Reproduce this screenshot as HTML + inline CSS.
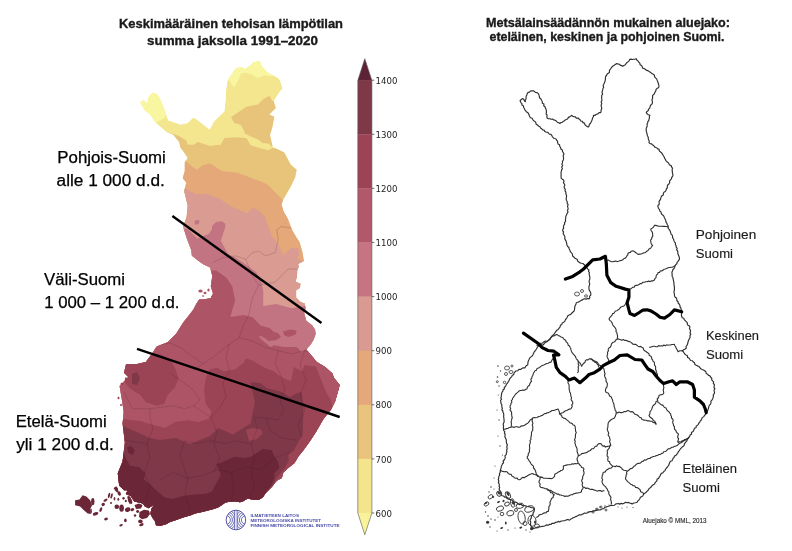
<!DOCTYPE html>
<html><head><meta charset="utf-8"><style>
html,body{margin:0;padding:0;background:#fff;}
body{width:792px;height:551px;overflow:hidden;position:relative;}
svg{position:absolute;left:0;top:0;}
text{-webkit-font-smoothing:antialiased;}
svg{will-change:transform;}
.t{font-family:"Liberation Sans",sans-serif;font-weight:bold;fill:#1a1a1a;stroke:#1a1a1a;stroke-width:0.35px;}
.lab{font-family:"Liberation Sans",sans-serif;fill:#000;stroke:#000;stroke-width:0.25px;}
.rl{font-family:"Liberation Sans",sans-serif;fill:#1a1a1a;stroke:#1a1a1a;stroke-width:0.15px;}
.cbl{font-family:"DejaVu Sans","Liberation Sans",sans-serif;font-size:8.6px;fill:#222;}
</style></head><body>
<svg width="792" height="551" viewBox="0 0 792 551">
<rect width="792" height="551" fill="#fff"/>

<defs><clipPath id="fin"><polygon points="140.2,102.2 143.5,99.8 147.2,103.5 148.2,97.5 152.5,92.4 157.6,94.2 161.2,101.0 165.6,112.5 168.1,120.2 171.8,121.6 180.5,124.5 187.7,123.1 193.5,117.3 197.9,120.2 205.2,126.0 209.5,129.6 213.9,121.6 219.7,115.8 224.3,111.6 225.5,100.0 226.0,90.0 227.5,80.4 231.6,73.9 235.9,68.3 241.2,66.9 245.6,68.7 250.0,65.6 253.6,62.1 259.8,60.7 261.5,65.6 266.0,70.9 269.5,73.6 278.3,78.0 280.3,81.1 282.6,88.6 278.1,94.2 273.7,101.5 275.9,108.0 269.4,114.5 274.4,116.7 272.3,127.6 270.0,135.0 272.7,146.7 284.3,152.5 290.8,164.8 296.7,169.7 295.2,177.3 290.8,186.6 286.5,193.9 283.0,200.0 281.5,204.5 283.6,211.6 287.9,218.9 292.1,230.0 296.6,237.7 299.5,242.1 302.4,252.3 303.9,261.0 298.1,263.9 298.8,266.8 297.3,269.7 296.9,277.3 295.4,281.6 300.5,283.8 299.8,288.1 296.1,290.3 296.1,297.6 300.5,301.9 304.8,303.4 305.6,308.5 304.1,312.8 306.3,320.8 312.1,325.2 315.0,329.5 315.7,333.9 313.6,339.7 310.7,344.4 306.3,349.4 310.7,354.5 316.5,361.8 325.2,366.9 332.4,373.4 333.9,377.7 339.7,385.0 338.2,390.8 335.3,401.0 331.0,409.7 323.5,419.1 316.2,431.8 310.0,441.3 303.5,450.2 298.4,456.5 294.6,462.9 288.3,468.0 283.2,473.0 281.9,478.1 276.8,480.7 271.8,487.0 265.4,493.4 262.9,497.2 259.1,499.7 252.7,499.7 247.6,498.5 243.8,501.0 240.0,502.3 235.0,501.5 230.0,501.8 225.4,502.5 222.0,505.0 218.0,507.5 213.7,509.0 208.0,510.5 202.1,512.0 195.0,513.5 190.9,515.2 183.0,517.5 176.2,520.1 170.0,522.0 166.0,524.2 160.0,526.1 156.0,525.2 155.1,521.4 152.3,517.6 150.4,513.8 151.3,509.1 154.2,504.4 148.5,508.2 144.7,506.3 142.8,503.5 134.3,501.6 130.6,495.9 125.8,494.0 127.7,490.3 124.0,490.3 119.2,485.5 118.3,478.0 117.8,473.2 122.6,461.4 124.9,442.5 122.6,423.6 123.7,411.8 121.8,399.0 119.6,385.9 128.3,377.1 124.0,372.8 126.1,364.1 137.0,364.1 145.8,361.9 152.3,353.2 156.6,346.6 167.5,342.3 176.3,333.6 183.2,322.6 189.0,315.3 193.4,309.5 196.3,303.7 199.2,299.4 206.0,299.0 210.8,297.9 213.0,293.6 210.8,286.3 212.3,276.1 210.1,267.4 203.6,264.5 197.7,260.2 191.9,255.8 191.2,250.0 187.0,239.0 183.0,226.6 186.6,217.2 187.7,205.4 184.2,191.2 186.3,182.6 182.7,178.2 184.8,171.0 184.8,162.2 187.7,157.9 184.8,153.5 180.5,147.7 179.0,141.9 173.2,134.7 166.0,131.8 155.8,123.1 150.0,114.4 144.5,110.2"/></clipPath></defs>
<g clip-path="url(#fin)">
<polygon points="140.2,102.2 143.5,99.8 147.2,103.5 148.2,97.5 152.5,92.4 157.6,94.2 161.2,101.0 165.6,112.5 168.1,120.2 171.8,121.6 180.5,124.5 187.7,123.1 193.5,117.3 197.9,120.2 205.2,126.0 209.5,129.6 213.9,121.6 219.7,115.8 224.3,111.6 225.5,100.0 226.0,90.0 227.5,80.4 231.6,73.9 235.9,68.3 241.2,66.9 245.6,68.7 250.0,65.6 253.6,62.1 259.8,60.7 261.5,65.6 266.0,70.9 269.5,73.6 278.3,78.0 280.3,81.1 282.6,88.6 278.1,94.2 273.7,101.5 275.9,108.0 269.4,114.5 274.4,116.7 272.3,127.6 270.0,135.0 272.7,146.7 284.3,152.5 290.8,164.8 296.7,169.7 295.2,177.3 290.8,186.6 286.5,193.9 283.0,200.0 281.5,204.5 283.6,211.6 287.9,218.9 292.1,230.0 296.6,237.7 299.5,242.1 302.4,252.3 303.9,261.0 298.1,263.9 298.8,266.8 297.3,269.7 296.9,277.3 295.4,281.6 300.5,283.8 299.8,288.1 296.1,290.3 296.1,297.6 300.5,301.9 304.8,303.4 305.6,308.5 304.1,312.8 306.3,320.8 312.1,325.2 315.0,329.5 315.7,333.9 313.6,339.7 310.7,344.4 306.3,349.4 310.7,354.5 316.5,361.8 325.2,366.9 332.4,373.4 333.9,377.7 339.7,385.0 338.2,390.8 335.3,401.0 331.0,409.7 323.5,419.1 316.2,431.8 310.0,441.3 303.5,450.2 298.4,456.5 294.6,462.9 288.3,468.0 283.2,473.0 281.9,478.1 276.8,480.7 271.8,487.0 265.4,493.4 262.9,497.2 259.1,499.7 252.7,499.7 247.6,498.5 243.8,501.0 240.0,502.3 235.0,501.5 230.0,501.8 225.4,502.5 222.0,505.0 218.0,507.5 213.7,509.0 208.0,510.5 202.1,512.0 195.0,513.5 190.9,515.2 183.0,517.5 176.2,520.1 170.0,522.0 166.0,524.2 160.0,526.1 156.0,525.2 155.1,521.4 152.3,517.6 150.4,513.8 151.3,509.1 154.2,504.4 148.5,508.2 144.7,506.3 142.8,503.5 134.3,501.6 130.6,495.9 125.8,494.0 127.7,490.3 124.0,490.3 119.2,485.5 118.3,478.0 117.8,473.2 122.6,461.4 124.9,442.5 122.6,423.6 123.7,411.8 121.8,399.0 119.6,385.9 128.3,377.1 124.0,372.8 126.1,364.1 137.0,364.1 145.8,361.9 152.3,353.2 156.6,346.6 167.5,342.3 176.3,333.6 183.2,322.6 189.0,315.3 193.4,309.5 196.3,303.7 199.2,299.4 206.0,299.0 210.8,297.9 213.0,293.6 210.8,286.3 212.3,276.1 210.1,267.4 203.6,264.5 197.7,260.2 191.9,255.8 191.2,250.0 187.0,239.0 183.0,226.6 186.6,217.2 187.7,205.4 184.2,191.2 186.3,182.6 182.7,178.2 184.8,171.0 184.8,162.2 187.7,157.9 184.8,153.5 180.5,147.7 179.0,141.9 173.2,134.7 166.0,131.8 155.8,123.1 150.0,114.4 144.5,110.2" fill="#f3e68e"/>
<polygon points="222.0,79.0 228.8,79.7 234.1,87.7 237.7,81.5 241.2,73.6 246.5,72.7 251.8,74.4 257.1,78.0 260.7,77.1 264.2,75.3 270.4,76.2 285.0,76.0 285.0,55.0 222.0,55.0" fill="#f8f6a0"/>
<polygon points="135.0,95.0 135.0,124.0 156.5,122.3 160.0,120.8 164.0,118.5 167.0,115.5 169.0,112.0 169.0,88.0" fill="#f8f6a0"/>
<polygon points="150.0,128.0 166.0,131.8 179.0,136.1 186.3,140.5 187.7,144.8 193.5,144.8 197.9,141.9 210.0,145.9 218.2,144.8 220.2,145.2 224.5,137.9 234.7,137.2 246.3,137.9 250.7,145.2 259.4,148.1 268.1,150.3 272.4,148.1 290.0,150.0 352.0,150.0 352.0,545.0 55.0,545.0 55.0,128.0" fill="#e8c47b"/>
<polygon points="231.1,116.9 239.0,111.8 246.3,106.7 257.9,104.5 263.7,98.7 269.5,95.8 272.4,100.9 290.0,100.0 290.0,146.0 271.0,146.6 269.5,143.7 262.3,143.0 257.9,139.4 250.7,136.5 244.8,133.6 243.4,129.2 240.5,124.8 234.0,122.7" fill="#e8c47b"/>
<polygon points="175.0,160.0 184.5,160.6 196.7,169.7 202.7,165.2 210.3,163.6 222.4,171.2 237.6,172.7 249.7,177.3 261.8,181.8 267.9,184.8 275.5,192.4 283.0,200.0 300.0,203.0 352.0,203.0 352.0,545.0 55.0,545.0 55.0,160.0" fill="#e5a879"/>
<polygon points="175.0,187.0 184.5,187.9 195.2,193.9 207.3,193.9 219.4,198.5 230.0,206.1 240.6,210.6 246.7,213.6 252.7,207.6 258.8,210.6 264.8,217.0 268.5,227.0 271.5,236.0 275.6,240.7 278.5,245.0 283.6,255.2 290.8,247.9 298.1,247.9 299.5,255.2 296.6,258.1 302.4,261.0 320.0,262.0 352.0,262.0 352.0,545.0 55.0,545.0 55.0,187.0" fill="#d99b92"/>
<polygon points="194.4,221.5 197.0,219.7 199.7,221.0 198.5,224.2 195.0,224.5" fill="#c37483"/>
<polygon points="212.0,226.0 216.0,222.0 222.0,221.2 225.5,224.0 224.0,229.0 218.0,231.0 212.0,230.0" fill="#c37483"/>
<polygon points="178.0,228.0 187.7,229.0 197.2,238.4 209.0,233.7 213.7,226.6 220.8,221.9 225.5,226.6 220.8,240.8 228.0,254.0 235.2,257.4 243.9,263.2 249.7,267.6 256.0,272.0 261.0,280.0 263.2,290.9 263.2,306.1 276.3,304.0 291.5,308.3 304.6,306.1 320.0,306.0 352.0,306.0 352.0,545.0 55.0,545.0 55.0,228.0" fill="#c37483"/>
<polygon points="198.0,260.0 210.5,270.5 216.3,270.5 226.5,277.7 232.3,286.5 235.2,301.0 232.3,309.7 230.5,317.0 243.6,314.9 252.3,317.0 261.0,325.8 269.7,327.9 274.1,332.3 265.4,334.5 258.8,336.6 262.0,340.0 270.7,346.9 274.1,345.2 284.5,346.9 296.6,346.9 301.7,352.1 306.9,348.6 313.3,351.9 340.0,352.0 352.0,352.0 352.0,545.0 55.0,545.0 55.0,260.0" fill="#ad5567"/>
<polygon points="259.0,335.3 263.0,331.5 270.0,331.0 278.0,333.0 281.0,337.0 276.0,340.3 268.0,341.0 265.0,338.0" fill="#ad5567"/><polygon points="283.0,331.5 290.0,329.5 296.8,330.5 295.5,334.5 289.0,337.0 284.5,335.5" fill="#ad5567"/>
<polygon points="112.0,418.0 118.0,418.0 130.0,420.0 140.0,421.0 150.0,424.0 165.0,428.0 175.0,422.0 187.6,420.3 198.5,422.1 209.4,418.5 211.2,411.3 205.8,404.0 204.0,389.5 205.8,378.6 209.4,369.5 216.7,367.7 223.9,371.3 235.0,369.5 243.6,362.8 245.8,358.4 252.3,360.6 263.2,367.1 274.1,371.5 282.8,378.0 291.0,381.0 293.7,367.1 302.4,371.5 304.6,365.0 320.0,367.1 345.0,367.0 352.0,367.0 352.0,545.0 55.0,545.0 55.0,418.0" fill="#9b4456"/>
<polygon points="301.7,352.0 308.6,357.2 315.5,365.9 319.0,374.5 322.4,383.1 325.9,391.7 331.0,400.3 332.8,409.0 329.3,415.9 345.0,416.0 345.0,350.0" fill="#ad5567"/>
<polygon points="110.0,380.0 122.3,376.8 125.9,384.0 131.3,389.5 140.4,394.9 145.9,402.2 156.8,405.8 164.0,404.0 167.7,394.9 174.9,387.6 178.5,378.6 174.9,367.7 169.5,358.6 160.0,354.0 151.3,353.2 155.0,345.0 150.0,335.0 110.0,335.0" fill="#9b4456"/>
<polygon points="132.0,374.0 137.0,372.0 140.0,378.0 137.0,385.0 132.0,384.0" fill="#7e3848"/>
<polygon points="115.0,422.0 132.0,430.0 150.0,438.0 160.0,440.0 176.0,438.0 190.0,444.0 210.0,436.0 218.0,428.0 233.0,434.5 250.5,423.6 254.9,401.8 250.5,382.2 260.3,383.1 267.2,388.3 281.0,391.7 289.7,396.9 296.6,393.4 301.7,391.7 303.4,409.0 302.8,434.5 296.3,445.4 285.4,467.1 276.6,478.0 272.3,488.9 300.0,500.0 352.0,500.0 352.0,545.0 55.0,545.0 55.0,422.0" fill="#7e3848"/>
<polygon points="246.0,430.0 252.0,428.0 260.0,429.0 263.0,433.0 257.0,439.0 249.0,441.0" fill="#9b4456"/><polygon points="288.3,455.0 292.0,451.5 297.0,452.0 296.0,458.0 292.5,464.0 289.0,462.0" fill="#9b4456"/>
<polygon points="110.0,453.0 124.1,453.6 125.6,458.2 130.2,465.8 139.2,467.3 145.3,473.3 143.8,479.4 149.8,483.9 157.4,491.5 165.0,497.6 172.6,499.1 183.2,496.1 193.8,494.5 205.9,493.8 212.0,491.5 215.0,485.5 221.1,474.8 216.5,464.2 224.1,461.2 235.0,456.7 243.8,458.0 250.2,457.0 255.2,454.0 262.9,448.9 271.8,450.2 274.3,456.5 278.1,461.6 279.4,468.0 274.3,473.0 274.3,478.1 271.8,484.5 266.0,492.0 262.0,505.0 352.0,505.0 352.0,545.0 55.0,545.0 55.0,453.0" fill="#6b2737"/><polygon points="127.0,447.0 131.0,446.0 134.7,450.0 133.0,455.0 128.5,453.0" fill="#6b2737"/>
<polyline points="213.0,262.5 222.8,257.6 235.9,255.9 245.7,259.2 252.2,252.7 258.7,251.0 265.3,255.9 275.1,252.7 278.3,239.6 276.7,229.8 281.6,226.5 291.4,228.2" fill="none" stroke="#3a1420" stroke-opacity="0.28" stroke-width="0.6"/><polyline points="245.7,259.2 252.2,275.5 258.7,285.3 252.2,298.4 248.9,314.7 242.4,327.8 239.1,337.6 229.3,344.1 213.0,357.2 203.2,363.7 193.4,370.3" fill="none" stroke="#3a1420" stroke-opacity="0.28" stroke-width="0.6"/><polyline points="258.7,285.3 275.1,282.1 288.1,269.0 299.0,269.0" fill="none" stroke="#3a1420" stroke-opacity="0.28" stroke-width="0.6"/><polyline points="239.1,337.6 252.2,340.9 265.3,347.4 278.3,350.7 291.4,353.9 304.5,350.7 312.0,352.0" fill="none" stroke="#3a1420" stroke-opacity="0.28" stroke-width="0.6"/><polyline points="229.3,344.1 226.1,357.2 229.3,370.3 222.8,383.3 226.1,396.4 221.0,405.8 210.8,417.4" fill="none" stroke="#3a1420" stroke-opacity="0.28" stroke-width="0.6"/><polyline points="278.3,350.7 275.1,363.7 281.6,376.8 284.9,389.9 280.0,400.0 284.0,410.0 278.0,420.0 266.0,418.0 254.4,417.4" fill="none" stroke="#3a1420" stroke-opacity="0.28" stroke-width="0.6"/><polyline points="158.0,345.0 170.0,343.0 180.3,347.4 193.4,357.2 203.2,363.7" fill="none" stroke="#3a1420" stroke-opacity="0.28" stroke-width="0.6"/><polyline points="170.5,373.5 180.3,380.0 193.4,389.9 200.0,400.0 193.4,405.8" fill="none" stroke="#3a1420" stroke-opacity="0.28" stroke-width="0.6"/><polyline points="124.0,392.0 132.4,408.7 149.9,408.7 173.1,405.8 184.7,408.7 193.4,405.8 210.8,417.4 216.7,431.9 213.8,443.6 219.6,458.1 213.8,472.6" fill="none" stroke="#3a1420" stroke-opacity="0.28" stroke-width="0.6"/><polyline points="149.9,408.7 149.9,417.4 152.8,429.0 147.0,443.6 149.9,458.1 144.0,472.6 150.0,486.0 146.0,500.0" fill="none" stroke="#3a1420" stroke-opacity="0.28" stroke-width="0.6"/><polyline points="124.0,440.0 135.0,442.0 147.0,443.6" fill="none" stroke="#3a1420" stroke-opacity="0.28" stroke-width="0.6"/><polyline points="184.7,440.7 196.3,443.6 210.8,440.7 225.4,443.6 237.0,440.7 248.6,443.6 251.5,443.6" fill="none" stroke="#3a1420" stroke-opacity="0.28" stroke-width="0.6"/><polyline points="160.0,480.0 173.1,472.6 187.6,478.4 202.1,475.5 216.7,469.7 231.2,472.6 245.7,466.8 260.2,469.7 274.7,458.1 290.0,452.0" fill="none" stroke="#3a1420" stroke-opacity="0.28" stroke-width="0.6"/><polyline points="231.2,472.6 234.1,487.1 231.2,501.7" fill="none" stroke="#3a1420" stroke-opacity="0.28" stroke-width="0.6"/><polyline points="254.4,417.4 257.3,429.0 251.5,443.6 254.4,458.1 251.5,472.6 254.4,487.1 250.0,498.0" fill="none" stroke="#3a1420" stroke-opacity="0.28" stroke-width="0.6"/><polyline points="184.7,440.7 180.0,455.0 187.6,478.4 185.0,495.0 190.0,510.0" fill="none" stroke="#3a1420" stroke-opacity="0.28" stroke-width="0.6"/><polyline points="304.5,350.7 300.0,365.0 306.0,380.0 300.0,395.0 305.0,410.0 298.0,425.0 302.0,438.0" fill="none" stroke="#3a1420" stroke-opacity="0.28" stroke-width="0.6"/><polyline points="266.0,418.0 270.0,430.0 282.0,438.0 296.0,440.0" fill="none" stroke="#3a1420" stroke-opacity="0.28" stroke-width="0.6"/><polyline points="170.0,300.0 185.0,302.0 200.0,298.0" fill="none" stroke="#3a1420" stroke-opacity="0.28" stroke-width="0.6"/>
</g>
<polygon points="75.1,500.2 79.5,499.6 82.6,495.2 86.4,496.4 90.2,500.2 92.1,505.3 90.2,509.0 90.8,514.1 87.7,513.5 83.9,510.3 80.1,506.5 75.1,505.3" fill="#6b2737"/>
<ellipse cx="116.9" cy="489.3" rx="1.1" ry="3" transform="rotate(-20 116.9 489.3)" fill="#6b2737"/><ellipse cx="119.2" cy="493.5" rx="1.6" ry="2.2" transform="rotate(-30 119.2 493.5)" fill="#6b2737"/><ellipse cx="109" cy="495.5" rx="1" ry="2.8" transform="rotate(15 109 495.5)" fill="#6b2737"/><ellipse cx="111.6" cy="496" rx="1" ry="2.8" transform="rotate(15 111.6 496)" fill="#6b2737"/><ellipse cx="114.5" cy="498.7" rx="0.9" ry="1.8" transform="rotate(0 114.5 498.7)" fill="#6b2737"/><ellipse cx="118.3" cy="499.2" rx="0.9" ry="1.5" transform="rotate(0 118.3 499.2)" fill="#6b2737"/><ellipse cx="123.5" cy="498.3" rx="1.2" ry="1.4" transform="rotate(0 123.5 498.3)" fill="#6b2737"/><ellipse cx="125.8" cy="501" rx="1" ry="1.3" transform="rotate(0 125.8 501)" fill="#6b2737"/><ellipse cx="130" cy="500" rx="1.6" ry="4.2" transform="rotate(-25 130 500)" fill="#6b2737"/><ellipse cx="105.5" cy="500.2" rx="2.2" ry="1.2" transform="rotate(-30 105.5 500.2)" fill="#6b2737"/><ellipse cx="103.2" cy="504.4" rx="1.8" ry="1.6" transform="rotate(-30 103.2 504.4)" fill="#6b2737"/><ellipse cx="100.8" cy="509.6" rx="1.2" ry="2.4" transform="rotate(20 100.8 509.6)" fill="#6b2737"/><ellipse cx="95.6" cy="513.8" rx="2.9" ry="1.6" transform="rotate(-20 95.6 513.8)" fill="#6b2737"/><ellipse cx="92.8" cy="501.6" rx="1.7" ry="3.6" transform="rotate(0 92.8 501.6)" fill="#6b2737"/><ellipse cx="91" cy="511" rx="0.9" ry="2.6" transform="rotate(0 91 511)" fill="#6b2737"/><ellipse cx="116.8" cy="506.7" rx="2.3" ry="2.3" transform="rotate(0 116.8 506.7)" fill="#6b2737"/><ellipse cx="121.6" cy="508.2" rx="2.3" ry="3.6" transform="rotate(0 121.6 508.2)" fill="#6b2737"/><ellipse cx="127.7" cy="509.6" rx="2.8" ry="2.3" transform="rotate(-20 127.7 509.6)" fill="#6b2737"/><ellipse cx="132.4" cy="509.6" rx="1.9" ry="1.4" transform="rotate(-20 132.4 509.6)" fill="#6b2737"/><ellipse cx="137.6" cy="511.5" rx="1.5" ry="1.4" transform="rotate(0 137.6 511.5)" fill="#6b2737"/><ellipse cx="106" cy="519" rx="1.9" ry="1.4" transform="rotate(-15 106 519)" fill="#6b2737"/><ellipse cx="125.4" cy="520.4" rx="1.3" ry="1.8" transform="rotate(0 125.4 520.4)" fill="#6b2737"/><ellipse cx="121.1" cy="525.2" rx="1.9" ry="1" transform="rotate(-20 121.1 525.2)" fill="#6b2737"/><ellipse cx="140.4" cy="521.4" rx="2.3" ry="1.8" transform="rotate(0 140.4 521.4)" fill="#6b2737"/><ellipse cx="141.4" cy="524.7" rx="2.3" ry="1.4" transform="rotate(-20 141.4 524.7)" fill="#6b2737"/><ellipse cx="135" cy="515.5" rx="1.2" ry="1.2" transform="rotate(0 135 515.5)" fill="#6b2737"/><ellipse cx="111" cy="503" rx="1" ry="1" transform="rotate(0 111 503)" fill="#6b2737"/><ellipse cx="130" cy="372" rx="1.5" ry="1.5" fill="#9b4456"/><ellipse cx="126" cy="379" rx="1.2" ry="1.8" fill="#9b4456"/><ellipse cx="122" cy="384" rx="1.5" ry="1.2" fill="#9b4456"/><ellipse cx="134" cy="369" rx="1.2" ry="1" fill="#9b4456"/><ellipse cx="139" cy="371" rx="1.2" ry="1" fill="#9b4456"/><ellipse cx="118.5" cy="398" rx="1" ry="1.2" fill="#9b4456"/><ellipse cx="121" cy="405" rx="1" ry="1" fill="#9b4456"/><ellipse cx="133" cy="366" rx="1.5" ry="1" fill="#9b4456"/><polygon points="139.5,512.0 144.0,509.8 149.0,510.5 150.0,514.0 147.0,518.0 142.0,519.3 139.0,517.0" fill="#6b2737"/><polygon points="134.5,505.0 139.0,503.6 142.6,505.0 141.0,508.5 136.0,509.0" fill="#6b2737"/><polygon points="127.5,496.0 130.0,497.0 131.5,502.0 130.0,504.5 128.0,501.0" fill="#6b2737"/><polygon points="113.5,488.0 116.0,486.5 118.0,489.0 116.5,492.5" fill="#6b2737"/><ellipse cx="200.5" cy="291" rx="2.2" ry="1.6" fill="#ad5567"/><ellipse cx="205" cy="293" rx="1.5" ry="1.2" fill="#ad5567"/><ellipse cx="208.5" cy="290" rx="1.2" ry="1.5" fill="#ad5567"/><ellipse cx="212" cy="297" rx="1" ry="1.3" fill="#ad5567"/><ellipse cx="203" cy="296" rx="1.2" ry="0.8" fill="#ad5567"/>

<rect x="357.8" y="80.2" width="14.1" height="54.4" fill="#7e3848"/><rect x="357.8" y="134.3" width="14.1" height="54.4" fill="#9c4456"/><rect x="357.8" y="188.4" width="14.1" height="54.4" fill="#b3586b"/><rect x="357.8" y="242.5" width="14.1" height="54.4" fill="#c67482"/><rect x="357.8" y="296.6" width="14.1" height="54.4" fill="#d99b91"/><rect x="357.8" y="350.7" width="14.1" height="54.4" fill="#e5a87a"/><rect x="357.8" y="404.8" width="14.1" height="54.4" fill="#e9c47c"/><rect x="357.8" y="458.9" width="14.1" height="54.4" fill="#f4e48c"/><polygon points="357.8,80.4 364.8,58.7 371.9,80.4" fill="#5e2236"/><polygon points="357.8,513 364.8,534.8 371.9,513" fill="#f8f39a"/><polygon points="357.8,80.4 364.8,58.7 371.9,80.4 371.9,513 364.8,534.8 357.8,513" fill="none" stroke="#555" stroke-width="0.6"/><line x1="371.9" y1="80.2" x2="374.3" y2="80.2" stroke="#333" stroke-width="0.7"/><text x="375.6" y="83.8" class="cbl">1400</text><line x1="371.9" y1="134.3" x2="374.3" y2="134.3" stroke="#333" stroke-width="0.7"/><text x="375.6" y="137.9" class="cbl">1300</text><line x1="371.9" y1="188.4" x2="374.3" y2="188.4" stroke="#333" stroke-width="0.7"/><text x="375.6" y="192.0" class="cbl">1200</text><line x1="371.9" y1="242.5" x2="374.3" y2="242.5" stroke="#333" stroke-width="0.7"/><text x="375.6" y="246.1" class="cbl">1100</text><line x1="371.9" y1="296.6" x2="374.3" y2="296.6" stroke="#333" stroke-width="0.7"/><text x="375.6" y="300.2" class="cbl">1000</text><line x1="371.9" y1="350.7" x2="374.3" y2="350.7" stroke="#333" stroke-width="0.7"/><text x="375.6" y="354.3" class="cbl">900</text><line x1="371.9" y1="404.8" x2="374.3" y2="404.8" stroke="#333" stroke-width="0.7"/><text x="375.6" y="408.4" class="cbl">800</text><line x1="371.9" y1="458.9" x2="374.3" y2="458.9" stroke="#333" stroke-width="0.7"/><text x="375.6" y="462.5" class="cbl">700</text><line x1="371.9" y1="513.0" x2="374.3" y2="513.0" stroke="#333" stroke-width="0.7"/><text x="375.6" y="516.6" class="cbl">600</text>

<line x1="172.4" y1="216" x2="321.5" y2="323" stroke="#000" stroke-width="2.4"/>
<line x1="137" y1="348.8" x2="339.7" y2="417" stroke="#000" stroke-width="2.4"/>

<polygon points="520.0,100.8 521.2,99.5 522.7,98.6 523.9,99.4 524.4,100.8 525.4,101.7 525.2,100.2 526.0,99.0 526.1,97.6 526.1,96.2 526.9,95.0 527.2,93.6 528.1,92.4 529.5,92.1 530.4,91.1 531.8,90.8 533.3,90.8 534.5,91.6 535.7,92.5 537.2,92.6 538.3,93.7 539.0,95.0 539.3,96.5 539.7,98.0 540.9,99.0 541.5,100.3 542.3,101.5 542.3,103.2 544.0,104.0 543.7,105.7 545.0,106.7 545.4,108.1 546.1,109.5 546.4,110.9 546.4,112.3 546.1,113.9 547.1,115.2 546.8,116.7 547.2,118.1 548.4,118.6 549.8,118.7 551.0,119.2 552.5,119.0 553.6,119.9 555.1,120.2 556.3,121.0 557.3,122.2 558.7,122.7 559.9,123.5 560.9,122.6 562.2,122.2 563.2,121.4 564.4,120.8 565.3,119.8 566.7,119.5 567.7,118.6 568.4,117.4 569.7,116.9 570.7,116.1 571.7,115.3 572.7,116.3 574.0,116.8 575.5,116.9 576.3,118.3 578.0,118.0 579.0,119.0 580.1,119.8 580.8,121.0 582.3,121.4 583.0,122.6 584.4,123.1 584.9,124.6 585.8,125.5 586.9,126.3 588.0,127.1 589.1,126.1 589.3,124.5 590.4,123.4 591.1,122.1 591.7,120.8 592.2,119.5 592.6,118.0 593.4,116.8 593.5,115.3 595.1,115.3 596.4,114.2 597.9,113.9 599.1,112.6 600.7,112.6 601.1,111.3 601.1,110.0 601.7,108.7 601.6,107.4 601.1,106.0 601.3,104.7 601.8,103.4 601.1,102.1 601.8,100.8 601.9,99.4 601.6,98.0 601.7,96.7 601.7,95.3 602.7,94.0 602.0,92.6 602.3,91.2 602.7,89.9 602.9,88.5 603.7,87.2 603.1,85.6 603.8,84.2 604.3,82.9 605.0,81.5 605.2,80.1 605.5,78.7 605.4,77.2 605.9,76.0 606.8,75.0 607.4,73.8 608.7,73.1 609.5,72.1 609.4,70.4 610.2,69.4 611.0,68.3 611.7,67.2 612.7,66.3 613.9,65.4 615.2,64.6 616.3,63.6 617.7,63.9 619.1,64.1 620.2,65.1 621.5,65.6 622.7,66.3 623.8,65.5 625.1,64.9 625.9,63.8 626.8,62.7 627.9,61.9 629.0,61.1 629.5,59.6 630.9,59.1 632.3,59.5 633.6,59.2 635.0,59.2 636.3,58.7 636.8,60.1 638.0,61.0 638.8,62.2 639.8,63.1 640.1,64.7 641.5,65.5 642.2,66.6 642.6,68.1 644.0,68.5 645.2,69.2 646.2,70.1 647.6,70.6 648.8,71.2 649.9,72.1 651.1,72.8 652.1,73.8 653.5,74.2 654.4,75.4 654.6,76.8 655.5,77.9 656.6,78.9 657.1,80.1 657.6,81.4 658.1,82.7 658.7,84.5 659.0,86.3 658.6,87.7 657.1,88.3 656.1,89.4 655.8,90.9 655.0,92.0 654.6,93.4 653.8,94.5 652.6,95.4 652.6,96.9 652.6,98.4 651.8,99.9 652.4,101.4 652.4,103.0 651.7,104.4 650.5,105.3 650.1,106.7 649.7,108.1 648.6,109.1 648.3,110.6 647.0,111.4 646.3,112.6 647.2,114.0 648.4,114.7 649.9,115.3 649.3,116.5 649.5,117.9 649.0,119.2 648.8,120.5 647.8,121.6 647.7,122.9 647.1,124.1 647.2,125.5 647.0,126.8 646.3,128.0 646.2,129.4 646.2,130.8 646.6,132.1 646.9,133.4 647.2,134.7 647.5,136.0 648.3,137.2 648.2,138.6 648.7,139.9 649.3,141.2 649.0,142.6 650.0,143.6 651.4,143.8 652.4,144.7 653.5,145.4 654.4,146.5 655.3,147.5 656.8,147.7 657.6,148.9 659.0,149.1 659.2,150.5 659.9,151.6 661.2,152.4 662.0,153.4 662.7,154.6 663.4,155.7 664.1,156.8 664.5,158.1 665.3,159.3 665.9,160.6 666.9,161.7 668.1,162.5 668.9,163.8 669.6,165.0 671.2,165.6 671.6,167.1 672.6,168.1 672.1,169.5 672.3,170.8 672.3,172.2 672.6,173.6 673.0,174.9 672.6,176.3 671.7,177.4 671.5,178.9 670.4,179.9 669.6,181.1 669.6,182.7 668.9,184.0 667.7,185.0 667.3,186.3 667.3,187.9 666.3,189.0 666.0,190.4 665.3,191.5 663.9,192.2 663.3,193.4 663.3,195.0 662.0,195.7 661.2,196.8 660.8,198.1 660.5,199.5 659.6,200.5 659.0,201.7 659.2,203.1 659.1,204.5 657.8,205.7 658.1,207.2 658.7,208.5 659.5,209.6 659.8,211.1 661.0,212.0 661.3,213.4 662.0,214.6 663.4,215.4 664.0,216.6 664.5,218.0 665.2,219.2 665.8,220.5 665.9,221.9 666.8,223.1 667.2,224.5 668.0,225.6 668.1,227.1 668.3,228.6 669.5,229.7 670.1,231.0 670.6,232.4 670.9,233.9 672.0,234.9 672.6,236.3 672.6,237.8 673.5,239.0 673.9,240.4 674.4,241.8 675.4,242.9 675.4,244.5 676.1,245.7 676.2,247.2 677.2,248.3 676.6,249.9 677.7,251.0 677.8,252.4 677.9,253.8 678.4,255.0 678.9,256.3 679.4,257.7 679.5,259.2 678.7,260.3 678.0,261.3 677.0,262.3 677.0,263.8 675.8,264.6 675.1,265.7 674.7,267.2 674.1,268.5 672.9,269.5 672.5,271.0 671.9,272.3 672.1,273.7 672.1,275.1 672.2,276.5 673.0,277.7 673.1,279.1 673.5,280.5 673.7,281.8 674.0,283.2 673.9,284.6 674.3,285.9 674.4,287.3 674.4,288.7 674.4,290.2 673.9,291.6 674.2,293.1 674.4,294.5 674.6,295.9 675.2,297.2 676.5,298.0 676.8,299.4 677.0,300.8 678.1,301.8 678.2,303.2 679.4,304.2 679.9,305.4 680.0,306.8 680.8,307.9 681.1,309.2 681.7,310.4 681.7,311.8 681.5,313.3 681.4,314.8 681.7,316.3 682.2,317.7 683.8,318.2 684.2,319.7 685.2,320.7 686.2,321.7 687.3,322.6 687.3,324.2 688.0,325.3 689.4,325.9 689.9,327.2 689.5,328.7 690.4,330.1 690.5,331.5 690.0,333.0 690.8,334.4 689.9,335.7 690.1,337.5 689.3,338.8 688.6,340.2 688.1,341.7 687.8,343.0 687.5,344.3 686.9,345.4 686.0,346.5 686.3,348.0 685.3,349.0 684.1,349.5 682.9,350.3 681.7,350.8 683.1,351.4 683.9,352.7 684.7,354.0 685.9,354.9 687.3,355.6 687.5,357.4 689.0,358.0 689.8,359.3 690.7,360.5 692.4,360.8 693.3,362.0 694.5,362.8 694.9,364.5 696.2,365.3 697.6,365.9 698.9,366.5 699.9,367.6 700.8,368.8 702.1,369.5 703.5,370.0 704.7,370.8 705.9,371.8 706.2,373.5 707.6,374.2 708.5,375.4 710.0,375.9 710.7,377.3 711.8,378.3 711.7,379.8 712.6,380.9 713.6,381.9 713.3,383.5 714.4,384.5 714.2,386.0 714.0,387.4 714.9,388.9 714.0,390.3 714.4,391.8 714.5,393.4 713.3,394.6 713.4,396.1 713.1,397.6 712.6,399.0 711.9,400.2 710.9,401.2 711.0,402.8 710.5,404.1 709.5,405.1 708.9,406.3 708.6,407.7 708.3,409.0 707.7,410.3 707.2,411.6 706.2,412.7 705.6,414.2 704.6,415.4 703.7,416.6 702.3,417.6 701.7,419.0 701.1,420.2 700.1,421.1 699.7,422.4 698.7,423.3 698.2,424.6 697.2,425.4 696.2,426.3 696.0,427.7 694.5,428.3 694.0,429.5 693.6,430.9 692.6,431.8 691.4,432.6 691.6,434.2 690.1,434.8 689.8,436.2 689.0,437.2 688.3,438.3 687.3,439.2 687.0,440.6 686.2,441.7 685.4,442.7 684.4,443.6 684.3,445.2 683.5,446.2 682.2,446.9 681.4,447.9 680.5,448.9 679.6,450.0 678.9,451.1 678.1,452.2 677.6,453.4 676.7,454.4 675.9,455.4 674.5,456.0 674.1,457.4 673.1,458.2 672.7,459.5 672.0,460.7 670.6,461.2 669.8,462.3 669.3,463.5 668.9,464.9 668.2,466.0 667.4,467.0 666.5,468.0 665.6,469.2 665.0,470.6 663.8,471.5 663.0,472.8 661.4,473.4 660.5,474.6 660.0,476.1 659.1,477.2 658.6,478.5 657.1,479.1 656.9,480.6 656.1,481.7 655.1,482.7 654.6,484.1 653.3,484.7 652.3,485.5 651.4,486.4 650.7,487.6 649.5,488.3 648.6,489.2 648.0,490.6 646.8,491.4 646.0,492.5 644.8,493.2 643.7,494.1 643.0,495.6 641.9,496.6 640.4,497.3 639.8,498.7 639.0,499.9 637.8,500.9 637.1,502.2 635.5,502.7 633.7,503.0 632.2,503.9 630.9,503.4 629.7,503.0 628.4,502.4 627.0,502.7 625.7,502.2 624.1,503.2 622.4,503.9 621.1,503.3 619.8,504.3 618.5,503.6 617.2,503.7 615.9,503.9 614.5,505.2 612.7,505.5 611.3,505.4 609.9,505.7 608.7,506.3 607.4,506.5 606.1,507.1 604.7,507.3 603.8,508.7 602.4,508.8 601.2,509.4 600.0,510.0 598.6,509.9 597.3,510.1 596.0,510.4 594.7,510.9 593.3,510.8 592.1,511.5 590.5,511.6 589.0,511.9 587.6,512.7 586.1,513.3 584.5,513.0 583.4,513.9 582.1,514.2 580.9,515.0 579.3,514.7 578.2,515.5 577.0,516.1 575.7,516.6 574.5,517.2 573.2,517.7 572.1,518.5 570.9,519.1 569.5,520.1 567.8,519.5 566.3,519.9 564.8,520.6 563.5,520.8 562.2,521.0 560.9,521.1 559.7,522.0 558.3,521.4 557.1,522.2 555.8,522.1 554.7,523.1 553.4,523.4 551.9,523.4 550.9,524.5 549.4,524.4 548.2,525.2 546.6,524.9 545.2,525.8 543.7,526.2 542.1,526.4 540.6,526.7 539.0,526.9 537.5,527.1 536.0,527.7 534.5,528.2 532.9,528.8 531.5,529.7 531.0,528.2 531.5,526.7 530.7,525.3 530.5,523.7 530.7,522.1 530.0,520.6 530.4,519.3 531.3,518.2 531.3,516.7 531.9,515.5 533.0,514.5 533.1,512.9 534.0,511.6 534.3,510.1 534.5,508.5 533.1,507.8 531.4,507.7 530.0,507.0 528.5,506.6 526.9,506.3 525.4,505.9 523.9,505.5 522.3,505.5 521.0,504.2 519.3,504.6 517.9,503.9 517.0,502.7 515.8,502.1 514.0,502.5 513.1,501.3 512.1,500.3 511.0,499.5 509.5,499.4 508.2,498.9 507.0,498.4 506.2,496.9 504.6,497.1 503.6,496.0 502.2,495.8 501.2,494.8 500.7,493.3 500.7,491.6 499.7,490.3 499.1,489.0 499.7,487.6 499.1,486.3 499.4,484.9 499.0,483.6 498.3,482.4 498.9,481.0 498.2,479.7 498.7,478.2 498.7,476.5 499.7,475.2 499.4,473.6 500.3,472.2 500.5,470.6 500.7,469.1 501.2,467.6 501.3,466.2 502.0,465.0 502.5,463.7 503.6,462.7 503.1,461.0 504.2,460.0 504.9,458.7 505.3,457.4 504.9,455.8 506.2,454.6 506.3,453.2 506.9,451.9 506.6,450.3 507.2,449.0 506.9,447.7 506.8,446.4 507.4,445.0 506.8,443.8 506.4,442.5 506.3,441.2 506.3,439.9 505.7,438.6 505.1,437.3 504.8,435.9 505.3,434.4 504.4,433.1 504.8,431.6 503.6,430.4 503.6,429.0 503.3,427.6 503.6,426.2 503.2,424.8 503.4,423.4 504.1,421.9 504.1,420.5 504.0,419.1 503.8,417.7 503.6,416.3 503.8,414.9 503.6,413.6 502.9,412.3 502.9,411.0 501.8,409.8 502.4,408.3 501.8,407.1 501.9,405.7 501.6,404.4 500.9,403.2 500.9,401.8 500.5,400.5 501.6,399.2 500.8,397.9 501.3,396.6 501.3,395.3 501.6,394.0 501.9,392.5 502.9,391.2 503.1,389.7 504.3,388.9 504.3,387.3 505.4,386.5 506.0,385.3 506.5,384.1 507.5,383.1 508.1,381.9 508.9,380.9 509.5,379.2 510.5,377.8 511.8,376.6 512.2,375.3 513.7,374.7 514.0,373.3 514.7,372.2 515.9,371.0 517.8,370.7 519.0,369.3 520.6,369.5 521.9,368.5 523.2,367.8 524.8,367.9 525.5,366.7 526.4,365.6 527.7,365.0 527.9,363.5 528.0,362.0 528.5,360.6 529.2,359.2 529.8,357.9 531.0,356.9 532.2,356.0 532.9,354.7 533.5,353.4 534.1,352.2 534.9,351.1 535.7,350.1 536.4,349.0 537.1,347.7 538.0,346.5 539.1,345.8 540.2,345.0 541.5,344.8 543.0,345.0 544.0,344.0 545.0,342.6 546.5,342.0 547.8,341.1 549.0,340.0 550.3,339.2 550.7,337.6 551.7,336.5 552.7,335.4 553.9,334.5 554.8,333.0 555.8,331.6 556.8,330.2 558.2,329.4 559.1,328.2 560.1,327.0 560.4,325.2 561.8,324.4 562.3,322.9 563.8,322.2 564.9,321.1 565.4,319.6 566.4,318.5 567.2,317.2 567.8,315.7 569.2,315.0 570.7,314.4 571.6,313.3 572.7,312.3 573.9,311.3 574.5,309.9 574.6,308.4 574.8,306.9 575.2,305.5 576.0,304.1 576.3,302.7 577.6,302.3 579.0,301.9 580.1,301.1 581.2,300.4 582.5,299.9 583.6,299.0 585.0,298.9 586.3,299.1 587.6,298.4 589.0,299.0 589.8,297.8 589.6,296.2 590.8,295.1 590.8,293.6 590.5,292.2 589.7,290.9 589.0,289.6 589.0,288.1 588.9,286.6 589.5,285.1 589.7,283.6 589.1,282.1 589.2,280.5 589.9,279.1 589.8,277.8 589.7,276.5 589.4,275.2 589.1,273.9 589.4,272.6 588.5,271.4 589.0,270.0 587.8,269.1 587.0,267.8 586.4,266.3 585.1,265.5 584.0,264.5 582.9,263.5 581.4,263.3 580.0,262.9 578.9,262.0 577.7,261.2 577.3,259.6 576.0,258.8 574.7,258.1 573.8,256.9 572.6,256.1 572.5,254.6 572.0,253.4 571.0,252.4 570.2,251.4 569.9,250.0 569.1,249.0 569.0,247.5 567.7,246.5 567.0,245.3 566.8,243.9 566.4,242.5 566.1,241.1 565.4,239.9 564.7,238.7 565.0,237.2 564.5,235.9 563.9,234.7 563.1,233.5 563.6,231.9 562.7,230.8 562.8,229.4 563.7,228.2 563.4,226.6 563.7,225.3 564.7,224.1 564.5,222.6 565.6,221.4 565.4,219.9 565.7,218.5 565.7,217.1 566.1,215.7 566.7,214.4 567.3,213.1 568.0,211.9 567.4,210.3 568.2,209.0 567.9,207.6 567.5,206.2 568.2,204.6 567.1,203.3 567.3,201.8 566.5,200.5 566.2,199.2 566.3,197.7 566.6,196.2 566.3,194.8 565.8,193.5 565.9,192.1 565.0,190.8 565.3,189.4 564.4,188.1 564.1,186.8 564.8,185.3 564.4,184.0 563.4,182.8 564.0,181.3 563.6,180.0 562.3,179.2 561.1,178.1 561.1,176.7 561.1,175.3 561.1,173.9 561.0,172.5 561.4,171.2 561.6,169.8 562.5,168.5 561.6,167.0 562.7,165.7 561.9,164.3 562.4,162.9 562.5,161.4 563.3,160.0 563.6,158.5 563.4,157.0 563.2,155.4 564.0,154.0 563.3,152.7 562.5,151.5 562.3,149.9 560.9,149.0 560.5,147.5 559.7,146.3 559.6,144.8 558.0,144.0 557.7,142.6 557.5,141.1 556.5,140.0 555.8,138.8 554.2,138.5 553.2,137.6 552.3,136.6 551.7,135.3 550.8,134.2 549.3,134.2 548.5,133.0 547.4,132.2 546.0,132.1 544.8,131.5 544.1,130.1 542.7,129.9 541.8,128.8 540.5,128.1 539.9,126.7 538.5,126.0 537.5,125.0 536.2,124.3 535.8,122.6 535.0,121.5 533.6,120.8 532.8,119.6 532.2,118.2 530.4,117.7 529.7,116.4 529.0,115.1 528.6,113.6 527.6,112.5 526.3,111.7 525.5,110.6 524.7,109.6 524.2,108.3 523.6,107.2 523.4,105.8 521.9,105.1 521.9,103.6 520.9,102.6 520.0,100.8" fill="none" stroke="#2e2e2e" stroke-width="1.15" stroke-linejoin="round"/><polyline points="668.9,227.2 667.5,226.7 666.1,226.5 664.6,226.3 663.2,226.4 661.7,226.3 660.2,226.3 658.8,226.2 657.3,225.9 655.9,225.2 654.4,225.4 653.6,227.0 652.3,228.1 650.8,229.0 651.0,230.5 652.0,231.7 652.6,233.0 652.6,234.5 652.8,236.1 651.8,237.4 651.7,238.9 650.6,240.1 650.8,241.7 651.0,243.1 651.5,244.4 652.6,245.4 651.6,246.8 650.6,248.2 649.0,249.0 648.1,250.5 646.5,251.4 645.3,252.6 643.8,252.7 642.4,253.4 641.1,254.0 639.6,254.1 638.1,254.4 637.1,253.6 636.0,252.8 635.0,252.0 633.9,251.2 632.6,250.8 631.3,251.2 630.4,252.4 629.0,252.6 627.9,253.5 627.8,254.9 626.8,255.9 626.2,257.1 625.4,258.1 623.9,258.5 622.8,259.8 621.4,260.4 619.9,260.8 618.5,261.3 617.1,261.6 615.5,260.9 614.1,261.4 612.7,261.7 611.2,261.6 609.8,261.1 608.6,260.1 607.0,260.3 605.6,260.0" fill="none" stroke="#303030" stroke-width="1.1" stroke-linejoin="round"/><polyline points="628.2,290.0 629.2,289.0 630.6,289.0 631.7,288.1 632.7,287.3 634.2,287.2 634.9,285.6 636.3,285.4 637.7,285.2 639.0,284.6 640.0,283.6 641.6,283.7 642.7,282.3 644.3,282.3 645.6,281.7 647.2,281.8 648.5,281.1 650.2,281.6 651.5,280.8 653.1,280.9 654.4,280.0 654.9,278.7 656.0,277.7 656.1,276.3 656.5,274.9 657.7,274.0 658.0,272.6 659.5,272.5 660.2,271.0 661.7,270.9 662.9,270.3 663.9,269.3 665.3,269.0 666.7,268.5 668.1,267.8 669.6,267.5 671.1,267.2 672.6,267.1 673.9,266.5 675.1,265.7" fill="none" stroke="#303030" stroke-width="1.1" stroke-linejoin="round"/><polyline points="627.1,302.7 625.8,303.5 624.9,304.8 623.9,305.9 622.4,306.5 621.0,307.0 619.9,308.1 619.1,309.2 617.9,309.9 617.0,310.7 615.5,311.0 614.7,312.0 614.0,313.2 612.6,313.6 612.1,315.2 610.9,316.4 609.8,317.6 609.0,319.0 609.8,320.4 611.2,321.4 612.0,322.8 612.6,324.4 613.1,325.6 614.1,326.5 615.0,327.6 615.7,328.7 616.2,329.9 615.9,331.3 616.9,332.5 616.9,333.8 617.4,335.1 617.6,336.4 617.3,337.8 618.0,339.0 616.3,339.4 615.4,340.9 614.2,342.0 612.6,342.6 611.5,343.8 611.1,345.5 610.4,347.0 609.0,348.0 608.2,349.3 608.4,350.9 607.5,352.3 607.7,353.9 607.2,355.3 607.0,356.8 607.8,358.2 608.4,359.5 608.8,361.0 608.5,362.5" fill="none" stroke="#303030" stroke-width="1.1" stroke-linejoin="round"/><polyline points="618.0,339.0 619.3,339.3 620.6,339.7 621.8,340.3 623.3,339.5 624.5,340.4 625.8,340.4 627.1,340.8 628.3,341.4 629.7,341.6 630.9,342.4 632.0,343.2 633.0,344.3 634.4,344.4 635.8,344.4 636.9,345.3 638.0,346.1 639.1,346.8 640.7,346.4 641.8,347.2 643.2,348.0 643.6,349.7 644.6,350.8 646.1,351.5 647.2,352.6 648.8,353.4 649.3,355.4 650.9,356.2 651.6,357.4 651.7,358.8 652.6,359.9 653.0,361.2 654.3,362.1 654.5,363.5 654.5,365.0 655.5,366.3 655.7,367.8 655.5,369.4 656.3,370.7 656.2,372.2 657.2,373.6 657.4,375.0 657.4,376.5 657.5,378.0" fill="none" stroke="#303030" stroke-width="1.1" stroke-linejoin="round"/><polyline points="649.0,347.2 650.4,347.1 651.7,346.8 653.1,346.3 654.5,346.3 655.9,346.7 657.3,346.8 658.6,345.6 660.0,346.0 661.3,345.9 662.7,346.0 663.9,345.0 665.3,345.8 666.5,344.8 667.9,345.2 669.2,345.0 670.5,345.0 671.8,344.5 673.1,344.5 674.4,344.4 674.9,345.7 675.7,346.8 676.1,348.1 676.9,349.2 677.5,350.4 678.1,351.7 679.8,350.7 681.7,350.8" fill="none" stroke="#303030" stroke-width="1.1" stroke-linejoin="round"/><polyline points="663.6,383.6 663.5,385.0 663.6,386.5 663.9,387.9 663.3,389.3 663.3,390.7 663.7,392.2 663.6,393.6 662.2,394.6 660.5,394.8 659.0,395.4 658.8,396.8 658.2,398.0 657.2,399.0 657.7,400.8 658.1,402.7 659.5,403.0 660.3,404.1 661.4,404.9 662.8,405.1 663.6,406.3 664.6,407.5 666.1,408.1 666.6,409.7 667.7,410.9 669.0,411.7 669.6,412.9 670.7,413.9 670.8,415.4 671.5,416.5 671.5,418.0 672.6,419.0 673.3,420.2 672.7,421.7 672.8,423.0 673.4,424.3 673.5,425.6 674.5,426.7 674.4,428.1 674.7,429.5 675.9,430.3 676.2,431.6 676.9,432.7 678.1,433.5 678.5,434.8 677.8,436.1 677.6,437.4 678.6,438.7 678.3,440.0 677.8,441.3 678.1,442.6 679.2,441.7 680.9,442.0 681.9,440.8 683.4,440.9 684.4,439.6 685.9,439.5 687.2,439.0 689.0,437.2" fill="none" stroke="#303030" stroke-width="1.1" stroke-linejoin="round"/><polyline points="657.2,400.9 655.9,401.7 655.7,403.3 654.7,404.3 653.6,405.2 652.7,406.3 652.2,407.7 651.8,409.2 651.0,410.5 650.0,411.7 649.9,413.7 649.0,415.4 649.9,417.0 651.3,418.0 652.7,419.0 653.2,420.5 654.8,421.2 655.4,422.6 656.3,424.4" fill="none" stroke="#303030" stroke-width="1.1" stroke-linejoin="round"/><polyline points="616.2,412.6 617.6,412.9 619.0,412.1 620.3,412.6 621.7,412.6 623.0,412.3 624.2,411.6 625.6,411.8 626.8,411.0 628.0,410.5 629.3,411.1 630.6,411.9 632.3,411.6 633.5,412.5 634.4,413.9 635.9,414.4 637.3,415.0 638.5,416.0 639.6,417.3 641.2,417.7 642.0,419.4 643.6,419.9 644.9,420.2 646.3,420.2 647.6,420.9 649.0,420.8 650.4,421.2 651.9,421.3 653.0,422.4 654.5,422.6 656.3,424.4" fill="none" stroke="#303030" stroke-width="1.1" stroke-linejoin="round"/><polyline points="689.0,437.2 688.1,438.5 686.3,438.7 685.5,440.1 684.0,440.7 682.6,441.2 681.7,442.6 680.4,443.1 679.2,443.6 678.1,444.6 677.1,445.5 675.9,446.1 674.4,446.2 673.4,447.2 671.9,447.3 670.8,448.1 669.6,448.7 668.2,448.9 667.2,449.9 666.3,451.0 665.1,451.5 663.7,451.8 663.0,453.1 661.6,453.3 660.5,454.4 659.0,454.5 657.7,455.3 656.3,455.6 655.0,456.3 653.5,456.5 652.2,457.0 650.9,457.5 649.8,458.5 648.3,458.5 647.1,459.2 646.0,460.2 644.4,459.8 643.4,461.1 642.0,461.4 641.1,462.5 639.9,463.2 638.4,463.4 637.1,463.8 636.0,464.6 635.1,465.7 633.9,466.3 633.0,467.3 632.0,468.4 630.5,468.6 629.5,469.5 628.5,470.5 627.3,471.2 625.7,470.5 624.0,470.2 622.4,469.6 621.7,468.1 620.5,467.2 619.2,466.3 617.9,466.6 616.6,465.8 615.3,466.8 614.0,466.3 612.7,466.3 611.8,465.3 610.8,464.3 609.8,463.4 609.7,461.8 608.1,461.2 607.8,459.8 607.8,458.5 608.2,457.2 607.1,455.9 607.1,454.6 607.5,453.3 607.3,452.0 607.2,450.7 608.2,449.4 609.3,448.2 609.6,446.4 610.8,445.3 610.3,444.0 610.1,442.7 609.5,441.5 610.2,440.0 609.8,438.7 609.5,437.4 609.0,436.2 608.1,434.9 608.7,433.2 608.2,431.8 607.5,430.5 607.2,429.0 607.8,427.6 607.9,426.1 608.0,424.5 608.2,423.0 609.0,421.7 610.2,420.5 611.4,419.4 612.9,418.8 614.4,418.1 615.1,416.8 615.5,415.4 616.1,414.1 616.2,412.6 616.0,411.2 615.0,410.0 614.9,408.5 614.4,407.2 614.0,405.8 614.0,404.2 613.3,402.8 612.7,401.4 612.6,399.9 611.8,398.5 611.3,396.9 609.6,396.0 609.0,394.5 608.1,393.0 606.2,392.5 605.4,390.9 605.6,389.4 606.0,388.1 607.0,386.9 607.2,385.4 607.4,383.8 606.8,382.4 605.9,381.1 606.2,379.5 605.4,378.1 604.9,376.7 604.5,375.3 605.1,373.7 604.5,372.3 604.3,370.8 604.0,369.4 603.5,368.0" fill="none" stroke="#303030" stroke-width="1.1" stroke-linejoin="round"/><polyline points="627.3,471.2 626.5,472.5 626.8,473.9 626.1,475.2 626.0,476.6 625.5,478.0 625.7,479.4 626.7,480.3 627.5,481.6 628.6,482.4 629.8,483.2 630.6,484.3 632.1,484.7 633.1,485.8 634.7,485.8 635.6,487.4 637.1,487.6 638.3,488.2 639.4,489.1 640.3,490.0 640.5,491.7 641.9,492.1 643.1,492.9 643.7,494.1" fill="none" stroke="#303030" stroke-width="1.1" stroke-linejoin="round"/><polyline points="612.7,466.3 611.9,467.5 610.8,468.2 609.3,468.3 608.3,469.1 607.1,469.8 606.0,470.5 605.4,471.9 603.9,472.1 602.9,472.9 602.9,474.3 602.2,475.6 602.1,476.9 601.8,478.2 602.7,479.7 602.0,481.0 602.2,482.4 602.8,483.7 603.4,484.9 604.5,485.9 605.7,486.9 606.4,488.2 607.4,489.3 607.8,490.8 608.9,491.9 608.7,493.6 609.4,494.9 610.2,496.1 611.0,497.3 610.6,498.7 610.8,500.2 611.3,501.6 611.5,503.1 611.0,504.5" fill="none" stroke="#303030" stroke-width="1.1" stroke-linejoin="round"/><polyline points="583.0,487.3 584.5,487.2 585.6,488.4 587.2,488.1 588.5,488.6 589.8,489.2 591.1,489.4 592.5,489.3 593.8,489.9 595.1,490.2 596.3,490.8 597.7,491.1 599.0,490.6 600.4,490.6 601.8,491.4 603.1,490.8 604.5,490.8" fill="none" stroke="#303030" stroke-width="1.1" stroke-linejoin="round"/><polyline points="578.0,455.5 579.5,455.4 580.8,454.6 581.9,453.5 583.4,453.4 584.8,452.9 586.3,452.8 587.5,452.0 588.5,451.1 589.9,450.7 591.0,449.8 591.9,448.7 593.5,448.6 594.4,447.5 595.2,446.3 596.8,446.2 597.5,444.8 598.4,443.8 599.9,443.5 601.2,443.9 601.9,445.2 602.9,446.1 604.6,445.9 605.4,447.1 606.7,446.6 608.1,446.2 609.6,446.1 610.8,445.3" fill="none" stroke="#303030" stroke-width="1.1" stroke-linejoin="round"/><polyline points="578.0,463.5 579.3,464.1 580.0,465.3 581.1,466.1 581.7,467.5 583.2,467.9 584.0,469.0 583.3,470.5 584.0,472.0 584.0,473.5 583.5,475.0 582.8,476.2 582.6,477.5 582.6,478.9 581.7,480.0 581.8,481.5 582.7,482.8 582.1,484.4 582.5,485.9 583.0,487.3" fill="none" stroke="#303030" stroke-width="1.1" stroke-linejoin="round"/><polyline points="570.9,409.0 569.4,409.1 568.1,409.8 566.8,410.5 565.4,410.8 564.1,411.8 562.8,412.7 561.1,413.1 560.0,414.4 561.6,415.3 562.1,417.2 563.6,418.1 565.3,418.5 566.5,419.6 567.8,420.6 569.0,421.7 569.8,422.8 571.2,423.1 572.4,423.7 573.1,425.0 574.5,425.3 575.2,426.7 575.3,428.2 575.5,429.7 575.6,431.2 576.3,432.6 575.6,434.0 575.4,435.5 575.4,437.0 575.1,438.5 574.5,439.9 575.3,441.2 574.8,442.9 575.4,444.3 575.7,445.7 576.3,447.1 577.0,448.5 577.1,450.0 577.1,451.6 577.6,453.0 578.1,454.4 578.3,455.9 577.7,457.2 577.0,458.5 577.2,460.0 577.9,461.7 578.0,463.5" fill="none" stroke="#303030" stroke-width="1.1" stroke-linejoin="round"/><polyline points="565.5,376.5 566.7,377.4 567.4,378.7 568.1,380.0 568.0,381.5 568.0,383.0 569.0,384.5 569.1,386.0 569.2,387.5 569.0,389.0 569.6,390.4 569.7,391.9 570.5,393.3 570.7,394.8 570.9,396.3 571.6,397.7 571.1,399.4 571.7,400.7 572.8,402.0 572.7,403.6 571.7,404.8 572.3,406.5 571.5,407.7 570.9,409.0" fill="none" stroke="#303030" stroke-width="1.1" stroke-linejoin="round"/><polyline points="503.6,429.0 505.2,429.2 506.6,428.6 508.0,428.2 509.4,427.5 510.9,427.2 512.4,426.8 513.9,427.4 515.4,426.7 516.9,426.8 518.4,427.1 519.9,427.2 520.9,426.1 522.3,425.9 523.7,425.7 524.9,425.0 526.0,424.2 527.2,423.6 528.4,422.6 529.3,421.4 530.1,420.0 531.6,419.3 532.6,418.1 534.0,417.6 535.6,417.7 537.1,417.5 538.4,416.6 539.9,416.3 541.2,415.8 542.5,415.4 543.5,414.4 544.6,413.6 546.1,413.5 547.2,412.7 548.6,412.6 549.7,411.9 550.9,411.3 552.0,410.5 553.6,410.5 555.1,410.0 556.6,409.5 558.1,409.0 558.6,410.3 559.3,411.6 559.4,413.1 560.0,414.4" fill="none" stroke="#303030" stroke-width="1.1" stroke-linejoin="round"/><polyline points="555.0,356.0 554.6,357.5 553.5,358.5 552.3,359.5 551.6,360.7 551.0,362.1 549.5,362.4 548.2,363.3 546.6,363.5 545.2,364.3 543.7,365.0 542.2,365.5 540.8,366.4 539.7,367.4 538.4,368.0 537.0,368.6 536.4,370.2 535.0,370.8 534.1,372.2 533.3,373.6 532.9,375.2 532.1,376.6 531.7,378.1 530.8,379.4 531.5,381.1 530.6,382.4 529.8,383.7 529.5,385.2 528.1,386.2 527.3,387.4 527.0,389.0 525.7,389.3 524.5,390.2 523.0,390.0 521.7,390.4 520.3,390.5 519.0,391.1 517.9,392.2 516.7,393.2 515.5,394.1 514.7,395.5 513.7,396.8 512.7,398.2 512.4,399.5 511.4,400.6 511.9,402.2 510.9,403.3 510.9,404.7 510.1,405.8 510.0,407.2 510.7,408.4 509.9,409.9 510.9,411.1 511.6,412.3 511.6,413.6 511.7,415.0 511.8,416.3 512.3,417.7 511.7,419.0 511.6,420.4 511.1,421.7 511.4,423.1 511.4,424.5 511.3,425.9 510.9,427.2" fill="none" stroke="#303030" stroke-width="1.1" stroke-linejoin="round"/><polyline points="532.6,418.1 532.3,419.5 532.1,420.8 532.6,422.2 532.9,423.6 532.2,424.9 532.7,426.3 532.9,427.6 532.6,429.0 532.8,430.4 531.8,431.5 531.5,432.8 531.4,434.2 531.4,435.5 531.0,436.8 530.8,438.1 531.0,439.5 529.9,440.7 530.5,442.1 530.0,443.4 529.6,444.6 529.4,446.0 529.7,447.3 529.7,448.7 529.3,450.0 529.6,451.3 529.0,452.6 528.2,453.9 528.3,455.4 527.3,456.6 527.2,458.1 528.3,459.2 529.0,460.6 530.0,461.8 530.7,463.2 531.5,464.5 532.6,465.4 533.5,466.4 533.5,468.0 534.5,469.0 535.2,470.3 535.7,471.6 536.1,473.0 536.3,474.4 537.7,475.5 539.1,476.7" fill="none" stroke="#303030" stroke-width="1.1" stroke-linejoin="round"/><polyline points="499.7,470.6 501.2,470.8 502.7,471.4 504.2,471.7 505.8,471.6 507.3,472.1 508.2,473.4 509.4,474.3 511.2,474.4 511.9,476.1 513.3,476.7 514.3,477.7 515.6,478.2 517.2,478.1 518.0,479.5 519.4,479.7 520.7,479.2 521.6,478.0 522.8,477.4 524.5,477.8 525.5,476.7 526.8,476.4 527.9,475.4 529.1,474.7 530.3,474.2 531.6,473.8 533.0,473.6 534.1,474.5 535.5,474.7 536.8,475.1 537.7,476.5 539.1,476.7 540.5,477.4 542.2,477.1 543.6,478.3 545.2,478.2 546.7,478.3 548.2,478.5 549.7,478.4 551.2,478.7 552.7,478.2 553.8,477.2 554.6,476.1 554.7,474.5 555.8,473.6 557.2,473.0 558.3,472.1 559.7,471.6 560.8,470.5 562.3,470.2 563.3,469.1 563.4,467.6 563.3,466.1 564.8,465.5 566.3,465.1 567.8,464.7 569.4,464.8 570.9,464.5 572.2,463.8 573.7,464.1 575.1,463.5 576.6,463.7 578.0,463.5" fill="none" stroke="#303030" stroke-width="1.1" stroke-linejoin="round"/><polyline points="540.6,476.7 540.2,478.2 539.8,479.7 539.1,481.1 539.1,482.7 540.2,484.0 539.7,485.9 540.6,487.3 542.1,487.6 543.6,488.1 545.1,488.6 546.7,488.8 547.5,490.0 548.9,490.4 550.0,491.3 550.6,492.7 552.4,492.7 553.0,494.1 554.2,494.8 553.3,495.9 553.2,497.4 551.8,498.2 551.2,499.4 550.6,500.9 549.9,502.3 550.3,504.0 549.7,505.5 548.8,506.9 548.9,508.5 548.6,510.0 548.2,511.5 546.8,511.6 545.9,513.0 544.3,512.8 543.1,513.4 541.9,514.2 540.6,514.5 539.2,514.9 538.4,516.2 537.2,516.9 536.1,517.6" fill="none" stroke="#303030" stroke-width="1.1" stroke-linejoin="round"/><polyline points="546.7,488.8 548.0,489.5 549.2,490.4 550.8,490.4 551.9,491.3 553.2,491.9 554.5,492.7 555.8,493.3 557.0,494.1 558.5,494.0 559.5,495.0 561.0,495.0 562.2,495.5 563.6,495.7 564.8,496.4 566.3,496.0 568.0,496.2 569.4,495.4 570.9,494.8 572.3,494.8 573.5,493.9 574.8,493.5 576.1,493.1 577.6,493.0 578.9,492.7 580.3,492.5 581.5,491.8 581.5,490.1 582.8,488.9 583.0,487.3" fill="none" stroke="#303030" stroke-width="1.1" stroke-linejoin="round"/><polyline points="536.4,345.4 538.0,345.3 539.3,344.4 540.6,343.2 542.2,343.2 543.3,342.4 544.3,341.5 545.6,341.1 547.1,341.3 548.1,340.3 549.3,339.3 550.4,338.2 551.6,337.2 552.4,335.9 554.0,335.9 555.4,335.1 556.8,334.5 558.2,335.4 559.6,336.1 561.0,336.9 562.6,337.4 563.4,338.5 564.3,339.6 565.6,340.3 566.1,341.7 567.2,342.6 567.9,343.8 568.2,345.2 569.5,346.0 570.0,347.3 570.8,348.4 570.9,349.9 571.5,351.4 572.3,352.9 573.4,354.1 574.5,355.3 575.5,356.6 576.0,358.2 576.9,359.5 578.1,360.7 578.8,361.8 579.8,362.7 580.5,363.9 581.1,365.0 581.7,366.2 582.3,365.0 583.1,364.0 584.1,363.0 585.1,362.1 585.4,360.7 586.6,359.7 588.1,359.9 589.3,358.8 590.8,358.9 592.2,359.3 592.8,360.7 594.0,361.2 594.9,362.3 596.3,362.6 597.0,363.8 598.2,364.8 598.4,366.2 599.0,367.5" fill="none" stroke="#303030" stroke-width="1.1" stroke-linejoin="round"/><polyline points="578.1,361.0 578.3,362.5 578.2,364.0 579.0,365.4 578.1,366.8 578.4,368.4 578.2,370.0 578.3,371.6 577.5,373.0" fill="none" stroke="#303030" stroke-width="1.1" stroke-linejoin="round"/><polyline points="590.8,358.9 591.9,359.8 593.4,360.2 594.7,360.9 596.0,361.5 597.2,362.3 598.1,363.6 599.1,365.0 600.8,365.8 601.7,367.3" fill="none" stroke="#303030" stroke-width="1.1" stroke-linejoin="round"/><polyline points="565.4,279.1 572.7,276.4 579.9,271.8 583.6,269.0 592.7,259.9 599.9,259.0 605.4,256.3 606.3,263.5 606.9,275.2 610.8,282.7 616.2,286.3 625.3,289.1 628.9,290.0 628.9,297.2 627.1,302.7 628.9,309.9 630.0,313.6 634.5,315.4 638.5,313.0 642.6,310.2 647.0,309.8 650.8,310.9 656.0,314.0 660.0,317.2 664.5,318.1 669.9,314.5 674.4,309.9 681.7,311.8" fill="none" stroke="#000" stroke-width="3.2" stroke-linejoin="round" stroke-linecap="round"/><polyline points="523.4,333.1 537.9,343.2 542.2,347.6 548.0,350.5 553.9,351.2 558.9,354.8 553.5,355.0 554.6,359.2 556.3,367.3 560.0,372.7 565.4,376.3 569.0,380.0 574.5,378.1 579.9,382.7 585.4,378.1 589.0,374.5 594.4,372.7 599.9,369.1 603.5,365.4 609.0,362.5 614.4,360.0 619.9,355.5 627.2,354.8 635.0,359.5 641.8,360.0 645.4,365.3 648.0,369.0 652.7,371.5 656.5,376.5 660.0,380.5 663.6,383.6 669.0,381.8 672.6,380.9 676.3,384.5 679.9,381.8 687.2,381.8 692.6,384.5 694.4,390.0 694.4,397.2 699.9,400.9 703.5,404.5 705.3,409.0 706.2,412.7" fill="none" stroke="#000" stroke-width="3.2" stroke-linejoin="round" stroke-linecap="round"/><ellipse cx="577" cy="294" rx="2.5" ry="2" fill="none" stroke="#333" stroke-width="0.8"/><ellipse cx="582" cy="291" rx="1.5" ry="1.5" fill="none" stroke="#333" stroke-width="0.8"/><ellipse cx="586" cy="296" rx="1.5" ry="1.2" fill="none" stroke="#333" stroke-width="0.8"/><ellipse cx="507" cy="368" rx="2.5" ry="2" fill="none" stroke="#333" stroke-width="0.8"/><ellipse cx="511" cy="372" rx="2" ry="1.5" fill="none" stroke="#333" stroke-width="0.8"/><ellipse cx="506" cy="374" rx="1.5" ry="1.5" fill="none" stroke="#333" stroke-width="0.8"/><ellipse cx="497.3" cy="381.7" rx="1" ry="1" fill="none" stroke="#333" stroke-width="0.8"/><ellipse cx="504.5" cy="382.4" rx="1.2" ry="1.2" fill="none" stroke="#333" stroke-width="0.8"/><ellipse cx="512" cy="366" rx="1" ry="1" fill="none" stroke="#333" stroke-width="0.8"/><ellipse cx="601" cy="507" rx="1" ry="1" fill="none" stroke="#333" stroke-width="0.8"/><ellipse cx="606" cy="510" rx="1" ry="1" fill="none" stroke="#333" stroke-width="0.8"/><ellipse cx="597" cy="509" rx="1" ry="1" fill="none" stroke="#333" stroke-width="0.8"/><ellipse cx="593" cy="512" rx="1.2" ry="1" fill="none" stroke="#333" stroke-width="0.8"/><ellipse cx="490.5" cy="496.8" rx="2.6" ry="1.8" transform="rotate(-35 490.5 496.8)" fill="none" stroke="#3a3a3a" stroke-width="0.9"/><ellipse cx="499.2" cy="493.6" rx="2.4" ry="2.6" transform="rotate(-30 499.2 493.6)" fill="none" stroke="#3a3a3a" stroke-width="0.9"/><ellipse cx="508" cy="495" rx="2.2" ry="3.5" transform="rotate(-30 508 495)" fill="none" stroke="#3a3a3a" stroke-width="0.9"/><ellipse cx="486.5" cy="504" rx="2.6" ry="1.7" transform="rotate(-35 486.5 504)" fill="none" stroke="#3a3a3a" stroke-width="0.9"/><ellipse cx="507" cy="504" rx="2.4" ry="1.8" transform="rotate(-30 507 504)" fill="none" stroke="#3a3a3a" stroke-width="0.9"/><ellipse cx="512.6" cy="503" rx="2" ry="4.4" transform="rotate(-10 512.6 503)" fill="none" stroke="#3a3a3a" stroke-width="0.9"/><ellipse cx="500" cy="508.6" rx="3.8" ry="2.4" transform="rotate(-20 500 508.6)" fill="none" stroke="#3a3a3a" stroke-width="0.9"/><ellipse cx="502" cy="514" rx="1.8" ry="1.7" transform="rotate(0 502 514)" fill="none" stroke="#3a3a3a" stroke-width="0.9"/><ellipse cx="510.3" cy="513.2" rx="3.6" ry="2.6" transform="rotate(-15 510.3 513.2)" fill="none" stroke="#3a3a3a" stroke-width="0.9"/><ellipse cx="519.9" cy="505.8" rx="3.8" ry="2.6" transform="rotate(-10 519.9 505.8)" fill="none" stroke="#3a3a3a" stroke-width="0.9"/><ellipse cx="529.3" cy="509" rx="4.8" ry="3" transform="rotate(-15 529.3 509)" fill="none" stroke="#3a3a3a" stroke-width="0.9"/><ellipse cx="521.6" cy="517.5" rx="3.5" ry="6.5" transform="rotate(-10 521.6 517.5)" fill="none" stroke="#3a3a3a" stroke-width="0.9"/><ellipse cx="532" cy="520.8" rx="4" ry="5.5" transform="rotate(-10 532 520.8)" fill="none" stroke="#3a3a3a" stroke-width="0.9"/><ellipse cx="525" cy="523.5" rx="2" ry="2" transform="rotate(0 525 523.5)" fill="none" stroke="#3a3a3a" stroke-width="0.9"/><ellipse cx="516" cy="510" rx="1.5" ry="1.5" transform="rotate(0 516 510)" fill="none" stroke="#3a3a3a" stroke-width="0.9"/><ellipse cx="537" cy="526" rx="2.5" ry="2" transform="rotate(0 537 526)" fill="none" stroke="#3a3a3a" stroke-width="0.9"/><ellipse cx="498.5" cy="502" rx="1.6" ry="0.9" transform="rotate(-30 498.5 502)" fill="#333"/><ellipse cx="503.5" cy="501" rx="1.2" ry="1.0" transform="rotate(-40 503.5 501)" fill="#333"/><ellipse cx="505.8" cy="523" rx="0.9" ry="1.5" transform="rotate(0 505.8 523)" fill="#333"/><ellipse cx="501.7" cy="528" rx="1.5" ry="0.9" transform="rotate(-20 501.7 528)" fill="#333"/><ellipse cx="520.8" cy="527.6" rx="1.5" ry="0.9" transform="rotate(-20 520.8 527.6)" fill="#333"/><ellipse cx="487.6" cy="522.2" rx="1.6" ry="1.5" transform="rotate(0 487.6 522.2)" fill="#333"/><ellipse cx="493" cy="497" rx="1.2" ry="1" transform="rotate(0 493 497)" fill="#333"/><ellipse cx="499" cy="493" rx="1.2" ry="1.6" transform="rotate(-30 499 493)" fill="#333"/><ellipse cx="508" cy="494" rx="1.2" ry="2.2" transform="rotate(-30 508 494)" fill="#333"/><ellipse cx="486" cy="503" rx="1.5" ry="1" transform="rotate(-30 486 503)" fill="#333"/><ellipse cx="513" cy="503" rx="1.2" ry="1.8" transform="rotate(-30 513 503)" fill="#333"/><ellipse cx="535" cy="522" rx="1.0" ry="1.5" transform="rotate(0 535 522)" fill="#333"/><ellipse cx="532" cy="528.5" rx="2" ry="1.2" transform="rotate(-20 532 528.5)" fill="#333"/><circle cx="498" cy="366" r="0.8" fill="#444"/><circle cx="500.5" cy="371" r="0.7" fill="#444"/><circle cx="497.5" cy="377" r="0.8" fill="#444"/><circle cx="499" cy="386" r="0.7" fill="#444"/><circle cx="498.2" cy="395" r="0.6" fill="#444"/><circle cx="497" cy="410" r="0.6" fill="#444"/><circle cx="499" cy="420" r="0.7" fill="#444"/><circle cx="498" cy="436" r="0.6" fill="#444"/><circle cx="500" cy="446" r="0.7" fill="#444"/><circle cx="502.5" cy="455" r="0.6" fill="#444"/><circle cx="495" cy="466" r="0.6" fill="#444"/><circle cx="494" cy="478" r="0.6" fill="#444"/><circle cx="491" cy="487" r="0.8" fill="#444"/><circle cx="489" cy="492" r="0.7" fill="#444"/><circle cx="494" cy="489" r="0.6" fill="#444"/><circle cx="596" cy="509" r="0.7" fill="#444"/><circle cx="600" cy="507" r="0.8" fill="#444"/><circle cx="605" cy="506" r="0.7" fill="#444"/><circle cx="609" cy="505" r="0.6" fill="#444"/><circle cx="614" cy="505.5" r="0.6" fill="#444"/><circle cx="618" cy="507" r="0.6" fill="#444"/><circle cx="588" cy="512" r="0.7" fill="#444"/><circle cx="622" cy="508" r="0.6" fill="#444"/><circle cx="627" cy="507" r="0.6" fill="#444"/><circle cx="633" cy="507.5" r="0.6" fill="#444"/><circle cx="485.5" cy="512" r="0.7" fill="#444"/><circle cx="488" cy="516" r="0.8" fill="#444"/><circle cx="491" cy="519" r="0.7" fill="#444"/><circle cx="495" cy="520" r="0.8" fill="#444"/><circle cx="498" cy="517" r="0.6" fill="#444"/><circle cx="490" cy="527" r="0.7" fill="#444"/><circle cx="497" cy="531" r="0.6" fill="#444"/><circle cx="508" cy="530" r="0.7" fill="#444"/><circle cx="515" cy="528" r="0.6" fill="#444"/><circle cx="526" cy="530" r="0.7" fill="#444"/><circle cx="530" cy="532" r="0.6" fill="#444"/>
<defs><clipPath id="fmiL"><rect x="225" y="509" width="9.6" height="22"/></clipPath><clipPath id="fmiR"><rect x="237.2" y="509" width="10" height="22"/></clipPath><clipPath id="fmic"><circle cx="235.9" cy="520" r="9.6"/></clipPath></defs><g stroke="#3d3f9e" fill="none" stroke-width="0.9">
<circle cx="235.9" cy="520" r="9.8"/>
<g clip-path="url(#fmic)" stroke-width="0.75">
<g clip-path="url(#fmiL)"><circle cx="226.1" cy="520" r="4.3"/><circle cx="226.1" cy="520" r="6.3"/><circle cx="226.1" cy="520" r="8.3"/><circle cx="226.1" cy="520" r="10.3"/></g>
<g clip-path="url(#fmiR)"><circle cx="245.7" cy="520" r="4.3"/><circle cx="245.7" cy="520" r="6.3"/><circle cx="245.7" cy="520" r="8.3"/><circle cx="245.7" cy="520" r="10.3"/></g>
<path d="M234.7,510 V530 M237.1,510 V530"/>
</g></g>
<g font-family='Liberation Sans, sans-serif' font-weight='bold' font-size='4.3' fill='#4a4ca8'>
<text x='250.4' y='516.6' textLength='48.6' lengthAdjust='spacingAndGlyphs'>ILMATIETEEN LAITOS</text>
<text x='250.4' y='521.7' textLength='70.6' lengthAdjust='spacingAndGlyphs'>METEOROLOGISKA INSTITUTET</text>
<text x='250.4' y='526.8' textLength='89.2' lengthAdjust='spacingAndGlyphs'>FINNISH METEOROLOGICAL INSTITUTE</text>
</g>
<text class="rl" x="695.8" y="239" font-size="13.6" textLength="60.4" lengthAdjust="spacingAndGlyphs">Pohjoinen</text>
<text class="rl" x="695.8" y="258.1" font-size="13.6" textLength="37.2" lengthAdjust="spacingAndGlyphs">Suomi</text>
<text class="rl" x="705.9" y="340.3" font-size="13.6" textLength="53.1" lengthAdjust="spacingAndGlyphs">Keskinen</text>
<text class="rl" x="705.9" y="358.9" font-size="13.6" textLength="37.3" lengthAdjust="spacingAndGlyphs">Suomi</text>
<text class="rl" x="682.5" y="472.9" font-size="13.6" textLength="54.4" lengthAdjust="spacingAndGlyphs">Eteläinen</text>
<text class="rl" x="682.5" y="491.7" font-size="13.6" textLength="37.3" lengthAdjust="spacingAndGlyphs">Suomi</text>
<text class="rl" x="642.7" y="523" font-size="7" textLength="63.8" lengthAdjust="spacingAndGlyphs" style="fill:#333">Aluejako © MML, 2013</text>
<text class="t" x="231" y="27.8" text-anchor="middle" font-size="12.6" textLength="224" lengthAdjust="spacingAndGlyphs">Keskimääräinen tehoisan lämpötilan</text>
<text class="t" x="232.5" y="45.2" text-anchor="middle" font-size="12.6" textLength="171" lengthAdjust="spacingAndGlyphs">summa jaksolla 1991–2020</text>
<text class="t" x="608" y="26.9" text-anchor="middle" font-size="12.3" textLength="244" lengthAdjust="spacingAndGlyphs">Metsälainsäädännön mukainen aluejako:</text>
<text class="t" x="607" y="41.3" text-anchor="middle" font-size="12.3" textLength="235" lengthAdjust="spacingAndGlyphs">eteläinen, keskinen ja pohjoinen Suomi.</text>
<text class="lab" x="57.3" y="162.6" font-size="16" textLength="108.5" lengthAdjust="spacingAndGlyphs">Pohjois-Suomi</text>
<text class="lab" x="56.6" y="185.5" font-size="16" textLength="108.2" lengthAdjust="spacingAndGlyphs">alle 1 000 d.d.</text>
<text class="lab" x="44" y="284.7" font-size="16" textLength="81" lengthAdjust="spacingAndGlyphs">Väli-Suomi</text>
<text class="lab" x="44.2" y="307.6" font-size="16" textLength="135.2" lengthAdjust="spacingAndGlyphs">1 000 – 1 200 d.d.</text>
<text class="lab" x="15.7" y="426.9" font-size="16" textLength="91" lengthAdjust="spacingAndGlyphs">Etelä-Suomi</text>
<text class="lab" x="16.2" y="449.5" font-size="16" textLength="97.6" lengthAdjust="spacingAndGlyphs">yli 1 200 d.d.</text>
</svg>
</body></html>
